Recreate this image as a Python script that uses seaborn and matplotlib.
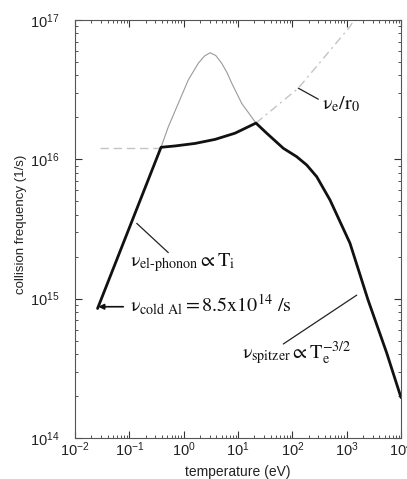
import matplotlib
matplotlib.use('Agg')
import matplotlib.pyplot as plt
import seaborn as sns
import pandas as pd
from matplotlib.ticker import LogLocator, NullFormatter

# values: temperature (eV) and collision frequency (1/s)
total_T = [0.026, 0.383, 0.693, 1.618, 3.78, 8.81, 21.4, 33.7, 68.2, 120, 184, 281, 494,
           1150, 2470, 5460, 10000]
total_nu = [8.5e14, 1.22e16, 1.247e16, 1.30e16, 1.39e16, 1.54e16, 1.82e16, 1.54e16, 1.20e16,
            1.045e16, 9.1e15, 7.5e15, 5.1e15, 2.5e15, 9.8e14, 4.07e14, 1.95e14]

phonon_T = [0.383, 0.521, 0.796, 1.216, 1.858, 2.40, 3.055, 3.89, 5.01, 6.31, 7.66, 11.7, 21.4]
phonon_nu = [1.22e16, 1.71e16, 2.52e16, 3.71e16, 4.89e16, 5.50e16, 5.82e16, 5.56e16, 4.89e16,
             4.17e16, 3.52e16, 2.52e16, 1.82e16]

sat_T = [0.0288, 0.383]
sat_nu = [1.2e16, 1.2e16]

ver_T = [21.4, 128.8, 1150, 1310]
ver_nu = [1.82e16, 3.24e16, 8.96e16, 9.75e16]

df_total = pd.DataFrame({'T': total_T, 'nu': total_nu})
df_phonon = pd.DataFrame({'T': phonon_T, 'nu': phonon_nu})

sns.set_style('ticks')
plt.rcParams['font.family'] = ['Liberation Sans', 'DejaVu Sans']
plt.rcParams['mathtext.fontset'] = 'custom'
plt.rcParams['mathtext.rm'] = 'Liberation Sans'
plt.rcParams['mathtext.it'] = 'Liberation Sans:italic'
plt.rcParams['mathtext.bf'] = 'Liberation Sans:bold'

fig = plt.figure(figsize=(4.07, 4.79), dpi=100)
ax = fig.add_axes([0.1843, 0.0856, 0.801, 0.8727])
ax.set_xscale('log')
ax.set_yscale('log')

# light grey curves first, thick total curve on top
sns.lineplot(x=sat_T, y=sat_nu, ax=ax, color='#c4c4c4', linewidth=1.0,
             linestyle=(0, (6, 3.5)), sort=False)
sns.lineplot(x=ver_T, y=ver_nu, ax=ax, color='#c4c4c4', linewidth=1.0,
             linestyle=(0, (6, 3, 1.5, 3)), sort=False)
sns.lineplot(data=df_phonon, x='T', y='nu', ax=ax, color='#9a9a9a', linewidth=0.8, sort=False)
sns.lineplot(data=df_total, x='T', y='nu', ax=ax, color='#111111', linewidth=2.0, sort=False)

ax.set_xlim(1e-2, 1e4)
ax.set_ylim(1e14, 1e17)
ax.xaxis.set_major_locator(LogLocator(base=10, numticks=20))
ax.xaxis.set_minor_locator(LogLocator(base=10, subs=range(2, 10), numticks=100))
ax.xaxis.set_minor_formatter(NullFormatter())
ax.yaxis.set_minor_locator(LogLocator(base=10, subs=range(2, 10), numticks=100))
ax.yaxis.set_minor_formatter(NullFormatter())
ax.tick_params(which='both', direction='in', top=True, right=True, colors='#333333')
ax.tick_params(which='major', length=5, width=0.8, labelsize=10.5, labelcolor='#222222')
ax.tick_params(which='minor', length=2.5, width=0.6)
ax.tick_params(axis='y', which='major', pad=11)
ax.tick_params(axis='x', which='major', pad=2)
for s in ax.spines.values():
    s.set_color('#555555')
    s.set_linewidth(0.8)

ax.set_xlabel('temperature (eV)', fontsize=10, color='#222222')
ax.set_ylabel('collision frequency (1/s)', fontsize=9.5, color='#222222')
ax.xaxis.set_label_coords(0.5, -0.064)
ax.yaxis.set_label_coords(-0.147, 0.512)

serif = dict(fontsize=14.5, color='#111111', math_fontfamily='stix', family='Liberation Serif')
line = dict(arrowstyle='-', color='#222222', lw=0.9, shrinkA=0, shrinkB=0)

ax.annotate('', xy=(300.6, 2.70e16), xytext=(128.8, 3.24e16), arrowprops=line)
ax.text(351, 2.49e16, r'$\mathrm{ν}_{\rm e}/{\rm r}_0$', ha='left', va='center', **serif)

ax.annotate('', xy=(0.521, 2.14e15), xytext=(0.1368, 3.47e15), arrowprops=line)
ax.text(0.1028, 1.70e15,
        r'$\mathrm{ν}_{\mathrm{el}\text{-}\mathrm{phonon}} \propto \mathrm{T}_\mathrm{i}$',
        ha='left', va='baseline', **serif)

ax.annotate('', xy=(0.0269, 8.75e14), xytext=(0.0774, 8.75e14),
            arrowprops=dict(arrowstyle='-|>', color='#111111', lw=1.2, shrinkA=0, shrinkB=0,
                            mutation_scale=8))
ax.text(0.1028, 8.02e14, r'$\mathrm{ν}_{\rm cold\ Al} = 8.5{\rm x}10^{14}\ /{\rm s}$',
        ha='left', va='baseline', **serif)

ax.annotate('', xy=(68.2, 4.73e14), xytext=(1531, 1.06e15), arrowprops=line)
ax.text(11.7, 3.75e14, r'$\mathrm{ν}_{\rm spitzer} \propto \mathrm{T}_\mathrm{e}^{-3/2}$',
        ha='left', va='baseline', **serif)

fig.savefig('out.png', dpi=100)
